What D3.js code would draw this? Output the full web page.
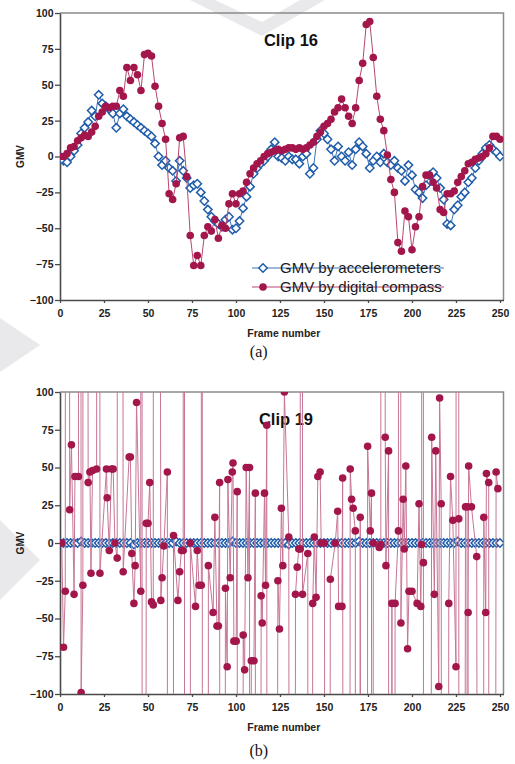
<!DOCTYPE html>
<html>
<head>
<meta charset="utf-8">
<script src="https://cdn.jsdelivr.net/npm/d3@7"></script>
<style>
  body { margin: 0; background: #fff; }
  svg { display: block; }
  text { font-family: "Liberation Sans", Arial, sans-serif; }
</style>
</head>
<body>
<svg id="chart" width="515" height="764"></svg>
<script>

// frame numbers sampled every 2 frames, used by panel (a) and by the blue series of panel (b)
const FRAMES = [0,2,4,6,8,10,12,14,16,18,20,22,24,26,28,30,32,34,36,38,40,42,44,46,48,
  50,52,54,56,58,60,62,64,66,68,70,72,74,76,78,80,82,84,86,88,90,92,94,96,98,
  100,102,104,106,108,110,112,114,116,118,120,122,124,126,128,130,132,134,136,138,140,142,144,146,148,
  150,152,154,156,158,160,162,164,166,168,170,172,174,176,178,180,182,184,186,188,190,192,194,196,198,
  200,202,204,206,208,210,212,214,216,218,220,222,224,226,228,230,232,234,236,238,240,242,244,246,248,250];

// Clip 16 - GMV by accelerometers
const CLIP16_ACCEL = [0,-3,-4,0,4,8,16,20,24,32,28,43,37,35,33,30,20,30,33,28,26,24,22,20,18,
  16,14,9,0,-6,-3,-8,-10,-17,-3,-10,-15,-22,-20,-19,-25,-31,-37,-42,-45,-47,-49,-44,-42,-51,
  -50,-45,-36,-28,-21,-12,-8,-5,-3,0,5,10,0,-1,-3,0,-2,-2,-5,0,2,-12,-8,12,18,
  16,12,5,-3,7,0,-3,3,-6,5,10,7,2,-8,-3,0,-4,2,-4,-6,-3,-8,-10,-17,-6,
  -13,-23,-25,-29,-20,-13,-11,-15,-22,-30,-47,-48,-37,-34,-28,-25,-18,-15,-8,-3,2,6,8,5,3,0];

// Clip 16 - GMV by digital compass
const CLIP16_COMPASS = [0,0,2,6,7,11,13,15,14,17,21,28,31,35,34,35,35,46,42,62,53,62,57,46,71,
  72,70,49,35,23,12,-26,-30,-19,13,14,-14,-55,-76,-69,-76,-55,-49,-52,-44,-57,-48,-50,-33,-26,
  -33,-26,-24,-18,-12,-8,-5,-3,0,2,3,4,5,4,5,6,6,5,6,5,6,8,10,14,17,
  21,23,26,31,34,40,34,28,23,34,53,65,92,94,69,42,26,18,1,-16,-25,-60,-66,-38,-42,
  -65,-49,-42,-21,-13,-13,-18,-22,-37,-39,-26,-26,-24,-18,-14,-10,-5,-4,-2,-1,0,2,6,14,14,12];

// Clip 19 - GMV by accelerometers (flat at zero)
const CLIP19_ACCEL = [0,0,0,0,0,0,1,0,0,0,0,0,0,0,0,0,0,0,0,0,0,-1,0,0,0,
  0,0,0,0,0,0,0,0,1,0,0,0,0,0,0,0,0,0,0,0,0,0,0,0,1,
  0,0,0,0,0,0,0,0,0,0,0,0,0,0,0,-1,0,0,0,0,0,0,0,0,0,
  0,0,0,0,0,0,0,0,0,0,1,0,0,0,0,0,0,0,0,0,0,0,0,0,0,
  0,0,0,0,0,0,0,0,0,0,0,0,0,1,0,0,0,0,0,0,0,0,0,0,0,0];

// Clip 19 - GMV by digital compass (many samples fall far off the +/-100 scale)
const CLIP19_FRAMES = [0,1,2,3,4,5.5,6.5,8,8.5,10.5,11,12,13,13.3,16,17,17.6,18.5,20.8,21.7,
  22.7,26.4,26.8,28,29.3,30.2,31.2,32.5,33.4,35.9,39.3,40,40.8,42,42.7,43.5,45.9,46.3,47,49,
  50,51,52,53,53.3,57.3,58,59,61,61.4,64.2,64.5,67,68,69,70,70.5,71,73.8,74.1,
  77,78,79,80.3,80.7,81,84,84.3,87,88,89.2,90,90.7,91.7,94,95,95.4,96.7,97.9,98.3,
  98.8,100.1,100.7,101.3,104.1,104.9,105.8,106.8,107.7,108.1,108.7,110.2,111,111.5,114.3,114.9,116.2,116.8,117.5,118.3,
  123.8,124.7,125.8,126.6,127.5,130,131.9,133.8,134.8,135.7,136.5,137.2,137.8,140.8,141,143.6,144.5,145.5,146.5,147.8,
  148.4,150.3,151.2,153.6,156.4,157.8,158.3,160.2,160.6,163,164.9,165.7,166.6,167.8,168.2,170.6,173.9,174.8,176.3,177,
  177.6,178,181.4,182.3,182.4,184.8,185.2,186.7,187,188.6,189.9,190.4,192.3,192.5,193.7,195,195.6,196.5,197.5,198.3,
  200,202.9,204,205,205.5,206,206.5,207,211.2,212.7,213.5,215.2,215.7,216.6,218.3,220.9,221.9,223.2,225,225.8,
  226.6,226.8,230.4,231.3,231.5,231.9,232.2,233.8,236.8,240,240.8,241.9,242.3,243.6,244.2,247.8,248.8];
const CLIP19_COMPASS = [0,0,-69,-32,3000,22,65,-34,44,44,3000,-99,-28,3000,40,47,-20,48,49,3000,
  -20,49,30,-5,49,49,0,-10,3000,-19,57,57,-7,-40,-15,93,-32,3000,-3000,13,
  13,40,-39,-41,3000,-38,-23,-2,47,-3000,-3000,5,-38,-19,-5,-5,3000,-3000,-3000,0,
  -42,-5,-28,-28,3000,-3000,-3000,-15,-46,17,-55,-55,40,-3000,-30,-82,42,-23,47,53,
  -65,-65,34,-3000,-61,-84,50,-23,50,-3000,-78,-78,33,-3000,-35,-53,33,-28,78,-3000,
  -25,-57,23,-15,100,4,-3000,-34,-16,-4,-4,3000,-34,-7,-3000,-40,4,-36,44,47,
  0,0,-3000,-24,0,21,-42,-42,43,-3000,49,29,23,8,-3000,17,-3000,64,8,33,
  -3000,0,-3,-1,3000,70,-15,61,-3000,-40,-3000,-40,8,3000,-53,29,-4,51,-70,-32,
  -32,-40,26,-42,-1,3000,-13,-3000,70,-34,61,-95,96,26,-3000,-40,44,15,-82,3000,
  16,-3000,24,24,-3000,-46,51,24,-9,-3000,17,-46,46,40,-3000,47,36];

const X_TICKS = [0, 25, 50, 75, 100, 125, 150, 175, 200, 225, 250];
const Y_TICKS = [-100, -75, -50, -25, 0, 25, 50, 75, 100];
const SERIES_NAMES = ['GMV by accelerometers', 'GMV by digital compass'];

const BLUE = '#1f5dab';
const RED = '#a3164c';

function whenDocumentLoaded(action) {
  if (document.readyState === 'loading') {
    document.addEventListener('DOMContentLoaded', action);
  } else {
    action();
  }
}

const DIAMOND = 'M0,-4.2L4.2,0L0,4.2L-4.2,0Z';

class GmvPanel {

  constructor(svg, id, box) {
    this.svg = svg;
    this.id = id;
    this.box = box;
    this.x = d3.scaleLinear().domain([0, 252]).range([box.left, box.right]);
    this.y = d3.scaleLinear().domain([-100, 100]).range([box.bottom, box.top]);
  }

  drawFrame() {
    const b = this.box;
    const g = this.svg.append('g');

    this.svg.append('clipPath').attr('id', `clip-${this.id}`)
      .append('rect')
      .attr('x', b.left).attr('y', b.top)
      .attr('width', b.right - b.left).attr('height', b.bottom - b.top);

    // grey top / right border
    g.append('path')
      .attr('d', `M${b.left},${b.top}H${b.right}V${b.bottom}`)
      .attr('fill', 'none').attr('stroke', '#8a8a8a').attr('stroke-width', 1.5);

    const xAxis = g.append('g')
      .attr('transform', `translate(0,${b.bottom})`)
      .call(d3.axisBottom(this.x).tickValues(X_TICKS).tickSize(3).tickPadding(7).tickSizeOuter(0));
    const yAxis = g.append('g')
      .attr('transform', `translate(${b.left},0)`)
      .call(d3.axisLeft(this.y).tickValues(Y_TICKS).tickSize(5).tickPadding(1.5).tickSizeOuter(0));

    [xAxis, yAxis].forEach(a => {
      a.select('.domain').attr('stroke', '#4a4a4a').attr('stroke-width', 1.6);
      a.selectAll('.tick line').attr('stroke', '#4a4a4a').attr('stroke-width', 1.3);
      a.selectAll('.tick text')
        .attr('fill', '#222')
        .style('font-size', '10.5px')
        .style('font-weight', 'bold');
    });

    g.append('text')
      .attr('x', (b.left + b.right) / 2 + 2).attr('y', b.bottom + 37)
      .attr('text-anchor', 'middle')
      .style('font-size', '10.5px').style('font-weight', 'bold').attr('fill', '#222')
      .text('Frame number');

    g.append('text')
      .attr('transform', `translate(24,${this.y(0)}) rotate(-90)`)
      .attr('text-anchor', 'middle')
      .style('font-size', '10px').style('font-weight', 'bold').attr('fill', '#222')
      .text('GMV');

    g.append('text')
      .attr('x', b.titleX).attr('y', b.top + 33)
      .attr('text-anchor', 'middle')
      .style('font-size', '16.5px').style('font-weight', 'bold').attr('fill', '#111')
      .text(b.title);

    g.append('text')
      .attr('x', (b.left + b.right) / 2 - 23).attr('y', b.bottom + b.captionDy)
      .attr('text-anchor', 'middle')
      .style('font-family', '"Liberation Serif", "Times New Roman", serif')
      .style('font-size', '16px').attr('fill', '#111')
      .text(b.caption);
  }

  drawSeries(frames, values, kind, lineColor) {
    const layer = this.svg.append('g').attr('clip-path', `url(#clip-${this.id})`);
    const pts = frames.map((f, i) => ({ f: f, v: values[i] }));
    const line = d3.line().x(d => this.x(d.f)).y(d => this.y(d.v));

    layer.append('path')
      .datum(pts)
      .attr('d', line)
      .attr('fill', 'none')
      .attr('stroke', lineColor)
      .attr('stroke-width', 1);

    const onScale = pts.filter(d => d.v >= -101 && d.v <= 101);
    if (kind === 'diamond') {
      layer.selectAll('path.mk').data(onScale).enter().append('path')
        .attr('class', 'mk')
        .attr('d', DIAMOND)
        .attr('transform', d => `translate(${this.x(d.f)},${this.y(d.v)})`)
        .attr('fill', '#fff').attr('stroke', BLUE).attr('stroke-width', 1.5);
    } else {
      layer.selectAll('circle').data(onScale).enter().append('circle')
        .attr('cx', d => this.x(d.f)).attr('cy', d => this.y(d.v))
        .attr('r', 3.8).attr('fill', RED);
    }
  }

  drawLegend(lx, ly) {
    const g = this.svg.append('g');
    SERIES_NAMES.forEach((name, i) => {
      const y = ly + i * 19;
      const color = i === 0 ? '#3f72b6' : '#b9466f';
      g.append('line').attr('x1', lx).attr('x2', lx + 192).attr('y1', y).attr('y2', y)
        .attr('stroke', color).attr('stroke-width', 1);
      if (i === 0) {
        g.append('path').attr('d', DIAMOND).attr('transform', `translate(${lx + 11},${y})`)
          .attr('fill', '#fff').attr('stroke', BLUE).attr('stroke-width', 1.5);
      } else {
        g.append('circle').attr('cx', lx + 11).attr('cy', y).attr('r', 3.8).attr('fill', RED);
      }
      g.append('text').attr('x', lx + 28).attr('y', y + 5)
        .style('font-size', '15px').attr('fill', '#1a1a1a')
        .text(name);
    });
  }
}

whenDocumentLoaded(() => {
  const svg = d3.select('#chart');

  // faint watermark chevrons in the background
  const wm = svg.append('g').attr('fill', '#e9e9ec');
  wm.append('path').attr('d', 'M190,0L215,0L262,22L300,0L325,0L262,36Z');
  wm.append('path').attr('d', 'M0,318L40,345L0,372Z');
  wm.append('path').attr('d', 'M0,520L40,560L0,600Z');

  const a = new GmvPanel(svg, 'a', {
    left: 60, right: 503.5, top: 13, bottom: 300,
    title: 'Clip 16', titleX: 291, caption: '(a)', captionDy: 57
  });
  a.drawFrame();
  a.drawSeries(FRAMES, CLIP16_ACCEL, 'diamond', '#3f72b6');
  a.drawSeries(FRAMES, CLIP16_COMPASS, 'circle', '#b9466f');
  a.drawLegend(252, 268);

  const b = new GmvPanel(svg, 'b', {
    left: 60, right: 503.5, top: 392, bottom: 694,
    title: 'Clip 19', titleX: 286, caption: '(b)', captionDy: 62
  });
  b.drawFrame();
  b.drawSeries(FRAMES, CLIP19_ACCEL, 'diamond', '#3f72b6');
  b.drawSeries(CLIP19_FRAMES, CLIP19_COMPASS, 'circle', '#c77596');
});
</script>
</body>
</html>
